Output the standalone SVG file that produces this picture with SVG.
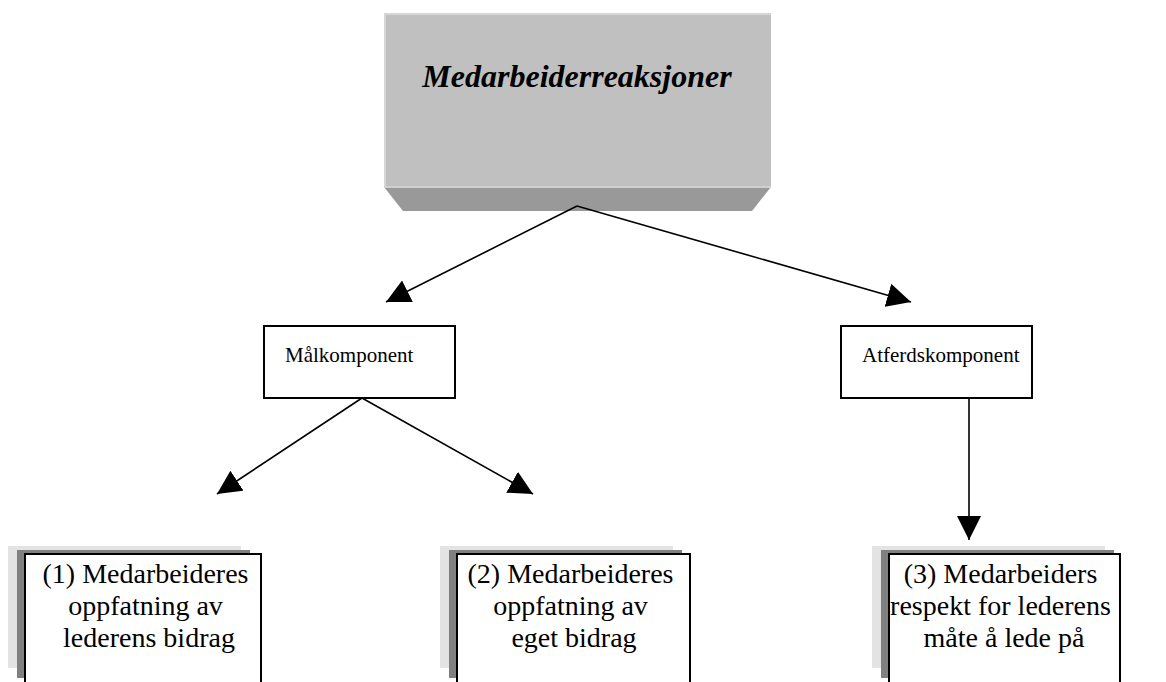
<svg xmlns="http://www.w3.org/2000/svg" width="1166" height="682" viewBox="0 0 1166 682">
  <style>
    .serif { font-family: "Liberation Serif", "Times New Roman", serif; fill: #000; }
    .title { font-size: 32px; font-weight: bold; font-style: italic; }
    .mid { font-size: 21px; }
    .low { font-size: 28px; }
    .frame { fill: #fff; stroke: #000; stroke-width: 2; }
    .shade-light { fill: #e3e3e3; }
    .shade-dark { fill: #808080; }
    .conn { stroke: #000; stroke-width: 1.6; fill: none; marker-end: url(#head); }
  </style>
  <defs>
    <marker id="head" markerUnits="userSpaceOnUse" markerWidth="24" markerHeight="24" viewBox="0 0 22 22" refX="22" refY="11" orient="auto">
      <path d="M0,0 L22,11 L0,22 Z" fill="#000"/>
    </marker>
  </defs>
  <rect width="1166" height="682" fill="#fff"/>

  <!-- top block with bevelled lower edge -->
  <g id="node-reaksjoner">
    <polygon points="384,187 771,187 752,211 403,211" fill="#999"/>
    <rect x="384" y="13" width="387" height="174" fill="#c0c0c0"/>
    <rect x="384" y="13" width="387" height="2" fill="#d6d6d6"/>
    <rect x="384" y="13" width="2" height="174" fill="#d6d6d6"/>
    <rect x="384" y="186" width="387" height="2" fill="#cfcfcf"/>
    <text class="serif title" x="577" y="87" text-anchor="middle">Medarbeiderreaksjoner</text>
  </g>

  <g id="node-malkomponent">
    <rect class="frame" x="264" y="326" width="191" height="72"/>
    <text class="serif mid" x="285" y="362">Målkomponent</text>
  </g>

  <g id="node-atferdskomponent">
    <rect class="frame" x="841" y="326" width="191" height="72"/>
    <text class="serif mid" x="862" y="362">Atferdskomponent</text>
  </g>

  <g id="node-1">
    <rect class="shade-light" x="8" y="546" width="233" height="122"/>
    <rect class="shade-dark" x="17" y="550" width="233" height="128"/>
    <rect class="frame" x="25" y="554" width="236" height="140"/>
    <text class="serif low" text-anchor="middle">
      <tspan x="149" y="583">(1) Medarbeideres</tspan>
      <tspan x="149" y="615">oppfatning av</tspan>
      <tspan x="149" y="647">lederens bidrag</tspan>
    </text>
  </g>

  <g id="node-2">
    <rect class="shade-light" x="440" y="546" width="233" height="122"/>
    <rect class="shade-dark" x="449" y="550" width="233" height="128"/>
    <rect class="frame" x="457" y="554" width="233" height="140"/>
    <text class="serif low" text-anchor="middle">
      <tspan x="574" y="583">(2) Medarbeideres</tspan>
      <tspan x="574" y="615">oppfatning av</tspan>
      <tspan x="574" y="647">eget bidrag</tspan>
    </text>
  </g>

  <g id="node-3">
    <rect class="shade-light" x="872" y="546" width="233" height="122"/>
    <rect class="shade-dark" x="881" y="550" width="233" height="128"/>
    <rect class="frame" x="889" y="554" width="231" height="140"/>
    <text class="serif low" text-anchor="middle">
      <tspan x="1004" y="583">(3) Medarbeiders</tspan>
      <tspan x="1004" y="615">respekt for lederens</tspan>
      <tspan x="1004" y="647">måte å lede på</tspan>
    </text>
  </g>

  <g id="connectors">
    <line class="conn" x1="577" y1="206" x2="386" y2="302"/>
    <line class="conn" x1="577" y1="206" x2="911" y2="302"/>
    <line class="conn" x1="362" y1="398" x2="217" y2="494"/>
    <line class="conn" x1="362" y1="398" x2="533" y2="494"/>
    <line class="conn" x1="969" y1="398" x2="969" y2="540"/>
  </g>
</svg>
